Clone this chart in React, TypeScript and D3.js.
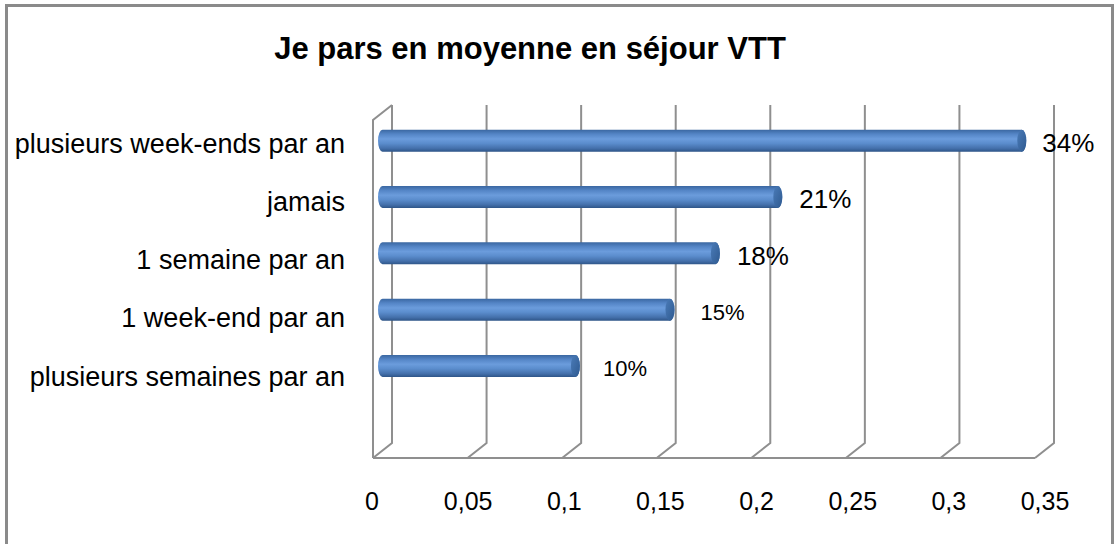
import React from 'react';
import * as d3 from 'd3';

const categories = [
  'plusieurs week-ends par an',
  'jamais',
  '1 semaine par an',
  '1 week-end par an',
  'plusieurs semaines par an',
];
const shares = [0.338, 0.209, 0.176, 0.152, 0.102];
const tickValues = [0, 0.05, 0.1, 0.15, 0.2, 0.25, 0.3, 0.35];
const title = 'Je pars en moyenne en séjour VTT';

const W = 1118;
const H = 544;
const FONT = '"Liberation Sans", Arial, sans-serif';
const GRID = '#8f8f8f';
// label sizes as they come out in the picture
const LABEL_FONT = [26, 26, 26, 22, 22];
const LABEL_GAP = [16, 17, 17, 26, 23];

// 3d box: back wall plus a shallow floor going toward the viewer
const wallTop = 105;
const wallBottom = 443;
const depthX = -19;
const depthY = 15;

const frFormat = d3.formatLocale({ decimal: ',', thousands: ' ', grouping: [3], currency: ['', ' €'] }).format('~g');

export default function App() {
  const x = d3.scaleLinear().domain([0, 0.35]).range([392, 1054]);
  // tick labels are spread a bit wider than the floor edge
  const xLabel = d3.scaleLinear().domain([0, 0.35]).range([372, 1045]);
  // excel keeps one empty slot below the last category
  const y = d3
    .scaleBand<string>()
    .domain(categories)
    .range([wallTop, wallTop + ((wallBottom - wallTop) * 5) / 6]);
  const yLabel = d3.scalePoint<string>().domain(categories).range([143, 376]);
  const step = y.step();
  const barH = 22;
  const rx = 4.5;
  // bars sit halfway into the depth
  const bx = depthX / 2;
  const by = depthY / 2;

  const frontLeft = x(0) + depthX;
  const frontRight = x(0.35) + depthX;
  const floorY = wallBottom + depthY;

  return (
    <svg width={W} height={H} style={{ position: 'absolute', left: 0, top: 0 }} fontFamily={FONT}>
      <defs>
        <linearGradient id="cyl" x1="0" y1="0" x2="0" y2="1">
          <stop offset="0" stopColor="#3a67a1" />
          <stop offset="0.2" stopColor="#5485c6" />
          <stop offset="0.42" stopColor="#6b9cdc" />
          <stop offset="0.62" stopColor="#5b8dcd" />
          <stop offset="0.85" stopColor="#4470ab" />
          <stop offset="1" stopColor="#2e5588" />
        </linearGradient>
        <linearGradient id="cap" x1="0" y1="0" x2="1" y2="1">
          <stop offset="0" stopColor="#4a7bb8" />
          <stop offset="1" stopColor="#2f5a90" />
        </linearGradient>
      </defs>
      <rect x={0} y={0} width={W} height={H} fill="#fff" />
      <rect x={6.5} y={5.5} width={1106} height={560} fill="none" stroke="#8a8a8a" strokeWidth={3} />

      <text x={530} y={59} textAnchor="middle" fontWeight="bold" fontSize={31} fill="#000">
        {title}
      </text>

      {/* walls and grid */}
      <g stroke={GRID} strokeWidth={2} fill="none">
        <path d={`M${frontLeft},${floorY} L${frontLeft},${wallTop + depthY} L${x(0)},${wallTop}`} />
        {tickValues.map(t => (
          <path
            key={t}
            d={`M${x(t)},${wallTop} L${x(t)},${wallBottom} L${x(t) + depthX},${floorY}`}
          />
        ))}
        <line x1={frontLeft} x2={frontRight} y1={floorY} y2={floorY} />
      </g>

      {/* cylinders */}
      {categories.map((c, i) => {
        const x0 = x(0) + bx;
        const x1 = x(shares[i]) + bx;
        const cy = (y(c) as number) + step / 2 + by;
        const top = cy - barH / 2;
        const bot = cy + barH / 2;
        const r = barH / 2;
        const body = `M${x0},${top} L${x1},${top} A${rx},${r} 0 0 1 ${x1},${bot} L${x0},${bot} A${rx},${r} 0 0 1 ${x0},${top} Z`;
        return (
          <g key={c}>
            <path d={body} fill="url(#cyl)" />
            <ellipse cx={x1} cy={cy} rx={rx} ry={r} fill="url(#cap)" />
          </g>
        );
      })}

      {/* value labels */}
      {categories.map((c, i) => {
        const x1 = x(shares[i]) + bx + rx;
        const cy = (y(c) as number) + step / 2 + by + 2;
        const fs = LABEL_FONT[i];
        return (
          <text key={c} x={x1 + LABEL_GAP[i]} y={cy + fs * 0.36} fontSize={fs} fill="#000">
            {`${Math.round(shares[i] * 100)}%`}
          </text>
        );
      })}

      {/* category labels */}
      {categories.map(c => (
        <text key={c} x={345} y={(yLabel(c) as number) + 27 * 0.36} textAnchor="end" fontSize={27} fill="#000">
          {c}
        </text>
      ))}

      {/* value axis labels on the front edge */}
      {tickValues.map(t => (
        <text key={t} x={xLabel(t)} y={510} textAnchor="middle" fontSize={25} fill="#000">
          {frFormat(t)}
        </text>
      ))}
    </svg>
  );
}
